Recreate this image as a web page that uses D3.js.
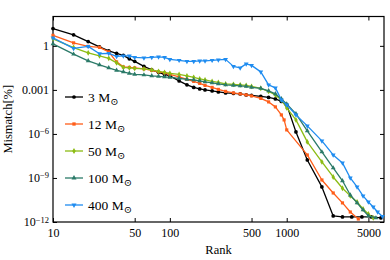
<!DOCTYPE html>
<html>
<head>
<meta charset="utf-8">
<script src="https://cdn.jsdelivr.net/npm/d3@7"></script>
<style>
  body { margin: 0; background: #fff; }
  svg { font-family: "Liberation Serif", "DejaVu Serif", serif; }
</style>
</head>
<body>
<svg id="chart" width="390" height="260"></svg>
<script>
// tick values
const rankTicks = [10, 50, 100, 500, 1000, 5000]
const mismatchTicks = [1, 1e-3, 1e-6, 1e-9, 1e-12]

// series (masses in solar masses)
const masses = ["3", "12", "50", "100", "400"]
const colors = ["#000000", "#ff5e1a", "#8cbc14", "#2b7a68", "#1f8cf0"]

const midRanks = [10, 15, 20, 25, 30, 35, 40, 45, 50, 60, 70, 80, 90, 100, 120, 140, 160, 180, 200,
  230, 260, 300, 350, 400, 450, 500, 600, 700, 800, 900]

const ranks3 = midRanks.concat([1000, 1200, 1500, 2000, 2500, 3000, 3600, 4400, 5300, 6400])
const mismatch3 = [15.1, 5.62, 1.96, 0.855, 0.456, 0.308, 0.225, 0.130, 0.0878, 0.0401, 0.0231, 0.0156,
  0.0114, 0.00902, 0.00411, 0.00220, 0.00148, 0.00117, 0.00100, 8.57e-4, 7.32e-4, 6.25e-4, 5.78e-4,
  5.35e-4, 4.57e-4, 4.22e-4, 3.61e-4, 3.08e-4, 2.44e-4, 1.65e-4,
  9.5e-5, 1.37e-6, 1.69e-8, 2.45e-10, 2.58e-12, 2.21e-12, 2.21e-12, 2.21e-12, 2.21e-12, 1.89e-12]

const ranks12 = midRanks.concat([950, 1000, 1500, 2000, 2500, 3000, 3500, 4100])
const mismatch12 = [5.2, 1.60, 0.925, 0.79, 0.39, 0.081, 0.037, 0.034, 0.0316, 0.027, 0.0214, 0.0169,
  0.0144, 0.0114, 0.0077, 0.0052, 0.0038, 0.00278, 0.00203, 0.00148, 0.00108, 7.9e-4, 6.25e-4,
  5.35e-4, 4.57e-4, 3.9e-4, 2.64e-4, 1.52e-4, 6.95e-5, 1.98e-5,
  9.0e-6, 1.88e-6, 3.7e-8, 7.3e-10, 9.5e-11, 2.0e-11, 4.8e-12, 1.6e-12]

const ranks50 = midRanks.concat([1000, 1200, 1500, 2000, 2500, 3000, 3500, 4000, 4500, 5000, 5500])
const mismatch50 = [3.0, 0.766, 0.333, 0.208, 0.141, 0.0694, 0.0342, 0.0316, 0.0292, 0.027, 0.0231,
  0.0183, 0.0156, 0.0134, 0.0114, 0.0090, 0.00713, 0.00563, 0.00481, 0.0038, 0.00325, 0.00257,
  0.00238, 0.0022, 0.00203, 0.00173, 0.00127, 7.9e-4, 4.57e-4, 2.08e-4,
  5.94e-5, 9.0e-6, 2.86e-7, 1.24e-8, 1.17e-9, 2.0e-10, 6e-11, 2.3e-11, 7.7e-12, 3.5e-12, 1.9e-12]

const ranks100 = midRanks.concat([1000, 1200, 1500, 2000, 2500, 3000, 3500, 4000, 4500, 5000, 5800])
const mismatch100 = [1.37, 0.272, 0.095, 0.0507, 0.0316, 0.0214, 0.0169, 0.0134, 0.0114, 0.0105, 0.0090,
  0.00834, 0.0077, 0.00713, 0.0061, 0.0052, 0.00481, 0.00411, 0.00352, 0.003, 0.00257, 0.0022,
  0.00203, 0.00188, 0.00173, 0.00148, 0.00127, 8.57e-4, 5.35e-4, 2.44e-4,
  1.11e-4, 2.32e-5, 1.61e-6, 5.9e-8, 4.8e-9, 6.4e-10, 6.9e-11, 2.0e-11, 6.6e-12, 2.6e-12, 1.9e-12]

const ranks400 = midRanks.concat([1000, 1200, 1500, 2000, 2500, 3000, 3500, 4000, 4500, 5000, 5500, 6000, 6600])
const mismatch400 = [3.5, 0.676, 0.925, 0.29, 0.308, 0.192, 0.208, 0.208, 0.164, 0.152, 0.164, 0.178,
  0.164, 0.12, 0.103, 0.0878, 0.0878, 0.095, 0.095, 0.103, 0.111, 0.12, 0.0401, 0.0316, 0.0593,
  0.0469, 0.0169, 0.0022, 0.00137, 2.08e-4,
  9.5e-5, 1.98e-5, 3.52e-6, 3.34e-7, 3.7e-8, 1.06e-8, 1.0e-9, 2.45e-10, 6e-11, 2.3e-11, 1.06e-11, 4.8e-12, 2.4e-12]

const allRanks = [ranks3, ranks12, ranks50, ranks100, ranks400]
const allMismatch = [mismatch3, mismatch12, mismatch50, mismatch100, mismatch400]
const symbols = [d3.symbolCircle, d3.symbolSquare, d3.symbolDiamond, d3.symbolTriangle, d3.symbolTriangle]

// plot frame
const margin = { top: 16.5, right: 6, bottom: 38, left: 53 }
const width = 390, height = 260

const svg = d3.select("#chart")

const x = d3.scaleLog()
  .domain([10, 6800])
  .range([margin.left, width - margin.right])

const y = d3.scaleLog()
  .domain([1e-12, 1e2])
  .range([height - margin.bottom, margin.top])

// axes, ticks pointing inward
const axisB = d3.axisBottom(x).tickValues(rankTicks).tickFormat(d3.format("d")).tickSize(-4).tickPadding(6)
const axisT = d3.axisTop(x).tickValues(rankTicks).tickFormat("").tickSize(-4)
const axisL = d3.axisLeft(y).tickValues(mismatchTicks).tickFormat("").tickSize(-4).tickPadding(4)
const axisR = d3.axisRight(y).tickValues(mismatchTicks).tickFormat("").tickSize(-4)

function styleAxis(g) {
  g.select(".domain").remove()
  g.selectAll(".tick line").attr("stroke", "#000").attr("stroke-width", 1)
  g.selectAll("text").attr("fill", "#000").attr("font-family", "Liberation Serif").attr("font-size", 12)
}

svg.append("g").attr("transform", `translate(0,${height - margin.bottom})`).call(axisB).call(styleAxis)
svg.append("g").attr("transform", `translate(0,${margin.top})`).call(axisT).call(styleAxis)
const gl = svg.append("g").attr("transform", `translate(${margin.left},0)`).call(axisL).call(styleAxis)
svg.append("g").attr("transform", `translate(${width - margin.right},0)`).call(axisR).call(styleAxis)

// y tick labels with superscripts
gl.selectAll(".tick text").each(function (d) {
  const t = d3.select(this)
  const e = Math.round(Math.log10(d))
  if (e === 0) t.text("1")
  else if (e === -3) t.text("0.001")
  else {
    t.text("10")
    t.append("tspan").attr("dy", "-0.45em").attr("font-size", 8.5).text("\u2212" + (-e))
  }
})

// frame
svg.append("rect")
  .attr("x", margin.left).attr("y", margin.top)
  .attr("width", width - margin.right - margin.left)
  .attr("height", height - margin.bottom - margin.top)
  .attr("fill", "none").attr("stroke", "#000").attr("stroke-width", 1.2)

// axis titles
svg.append("text")
  .attr("x", (margin.left + width - margin.right) / 2).attr("y", 254)
  .attr("text-anchor", "middle").attr("font-size", 12.5).text("Rank")

svg.append("text")
  .attr("transform", `translate(12,${(margin.top + height - margin.bottom) / 2}) rotate(-90)`)
  .attr("text-anchor", "middle").attr("font-size", 12.5).text("Mismatch[%]")

// curves
const line = d3.line().x(d => x(d[0])).y(d => y(d[1]))
const plot = svg.append("g")

masses.forEach((m, i) => {
  const pts = allRanks[i].map((r, j) => [r, allMismatch[i][j]])
  const g = plot.append("g")
  g.append("path").datum(pts)
    .attr("d", line).attr("fill", "none")
    .attr("stroke", colors[i]).attr("stroke-width", 1.3).attr("stroke-linejoin", "round")
  g.selectAll("path.pt").data(pts).join("path")
    .attr("class", "pt")
    .attr("d", d3.symbol().type(symbols[i]).size(i === 0 ? 11 : 10))
    .attr("transform", d => `translate(${x(d[0])},${y(d[1])})${i === 4 ? " rotate(180)" : ""}`)
    .attr("fill", colors[i])
})

// legend
const legendY = [97, 124, 151, 178, 205]
const legend = svg.append("g")
masses.forEach((m, i) => {
  const g = legend.append("g").attr("transform", `translate(0,${legendY[i]})`)
  g.append("line").attr("x1", 65).attr("x2", 83).attr("stroke", colors[i]).attr("stroke-width", 1.3)
  g.append("path")
    .attr("d", d3.symbol().type(symbols[i]).size(11))
    .attr("transform", `translate(74,0)${i === 4 ? " rotate(180)" : ""}`)
    .attr("fill", colors[i])
  const t = g.append("text").attr("x", 88).attr("y", 4.5).attr("font-size", 13.5)
  t.append("tspan").text(m + " M")
  t.append("tspan").attr("dy", 3.5).attr("font-size", 10).text("\u2299")
})
</script>
</body>
</html>
